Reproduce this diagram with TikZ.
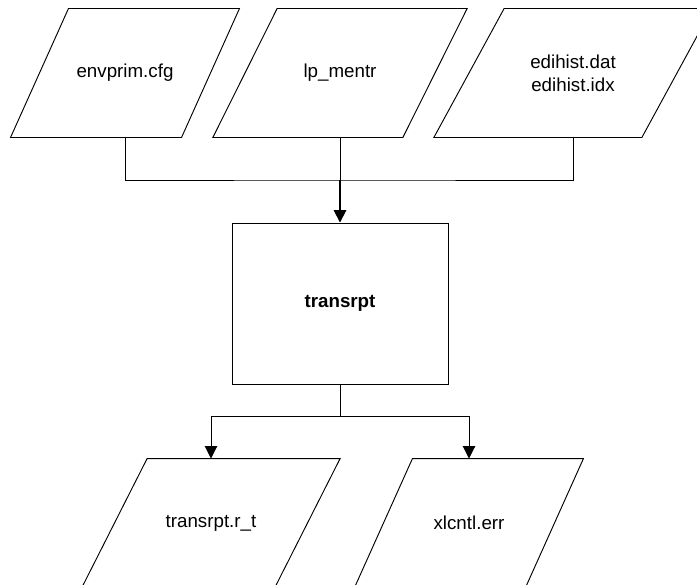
\documentclass[tikz,border=0pt]{standalone}
\usepackage{fontspec}
\setmainfont{Liberation Sans}
\usepackage{tikz}
\usetikzlibrary{arrows.meta,positioning}
\tikzset{
  datafile/.style={minimum width=#1*0.04cm, minimum height=3.84cm, inner sep=0pt, align=center},
  procbox/.style={draw, line width=0.8pt, minimum width=6.48cm, minimum height=4.83cm, font=\bfseries\fontsize{16}{19.3}\selectfont},
  arr/.style={-{Triangle[width=3.7mm,length=3.7mm]}},
}

\begin{document}
\begin{tikzpicture}[x=0.03cm,y=-0.03cm,line width=0.8pt,font=\fontsize{16}{19.3}\selectfont]
            \clip (0,0) rectangle (697,584);
            \node[datafile=171] (cfg) at (125,73) {envprim.cfg};
            \node[datafile=190] (mentr) at (340,73) {lp\_mentr};
            \node[datafile=208] (hist) at (573,73) {edihist.dat\\edihist.idx};
            \node[procbox] (proc) at (340,303.5) {transrpt};
            \node[datafile=193] (rt) at (211,523) {transrpt.r\_t};
            \node[datafile=171] (err) at (469,523) {xlcntl.err};
            \foreach \n/\e in {cfg/171,mentr/190,hist/208,rt/193,err/171}
                \draw (\n.south west) -- ++(\e,0) -- (\n.north east) -- ++(-\e,0) -- cycle;
            \coordinate (tj) at (340,180);
            \coordinate (bj) at (340,416);
            \draw (cfg.south) |- (tj) -| (hist.south);
            \draw (mentr.south) -- (tj);
            \draw[arr,line width=1.5pt] (tj) -- (proc.north);
            \draw (proc.south) -- (bj);
            \draw[arr] (bj) -| (rt.north);
            \draw[arr] (bj) -| (err.north);
        \end{tikzpicture}
\end{document}
